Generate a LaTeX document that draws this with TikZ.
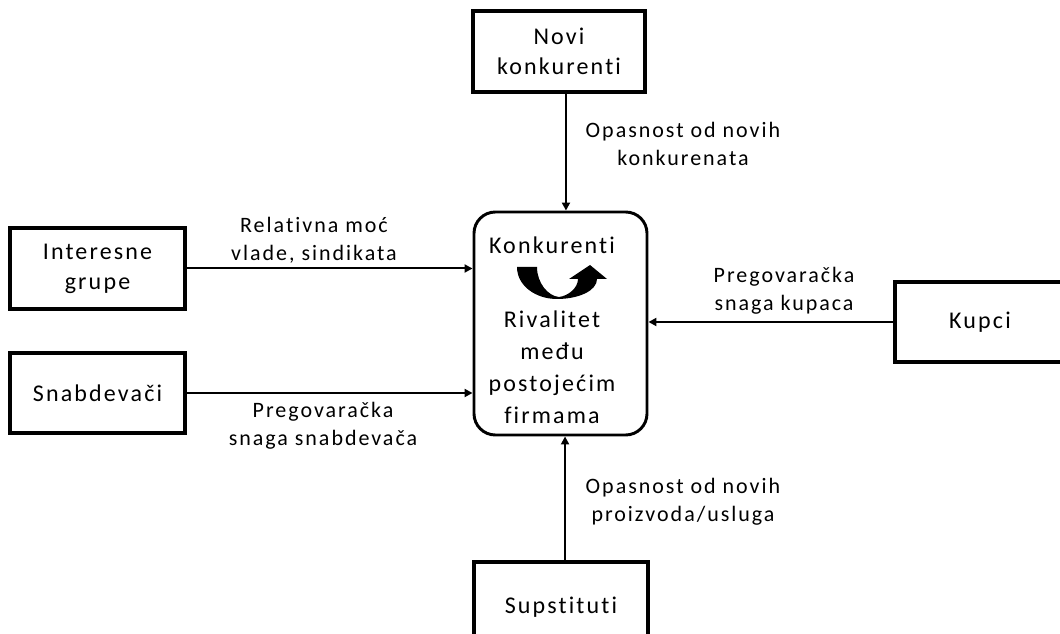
\documentclass[tikz,border=0pt]{standalone}
\usepackage{fontspec}
\setmainfont{Carlito}[LetterSpace=9, Ligatures=CommonOff]
\usetikzlibrary{arrows.meta}

\begin{document}
\begin{tikzpicture}[x=0.75pt,y=-0.75pt,
  box/.style={draw, line width=2.5pt, minimum width=130pt, minimum height=60.75pt,
    inner sep=0pt, align=center, font=\fontsize{18}{22.5}\selectfont},
  core/.style={draw, line width=2.2pt, rounded corners=16pt, minimum width=129.75pt,
    minimum height=167.25pt, inner sep=0pt},
  coretext/.style={align=center, inner sep=0pt, font=\fontsize{18}{24}\selectfont},
  lbl/.style={align=center, inner sep=0pt, font=\fontsize{16.5}{21}\selectfont},
  flow/.style={line width=1.5pt, -{Triangle[length=6pt,width=6pt]}}]

\useasboundingbox (0,0) rectangle (1060,634);
\clip (0,0) rectangle (1060,634);

% outer forces
\node[box, minimum width=129pt] (novi) at (559,51.5) {Novi\\konkurenti};
\node[box, minimum width=131.25pt] (grupe) at (97.5,268.5) {Interesne\\grupe};
\node[box, minimum width=131.25pt, minimum height=60pt] (snab) at (97.5,393) {Snabdeva\v{c}i};
\node[box, minimum width=127.5pt, minimum height=60pt] (kupci) at (980,322) {Kupci};
\node[box, minimum width=130.5pt, minimum height=67.5pt] (sup) at (561,607) {Supstituti};

% central box: rivalry among existing firms
\node[core] (core) at (560.5,323.5) {};
\node[coretext] (konk) at (552,245) {Konkurenti};
\node[coretext] (rival) at (552,367) {Rivalitet\\me\dj u\\postoje\'cim\\firmama};

% curved arrow between the two texts
\fill (517,267) .. controls (517,286) and (536,299) .. (557,299)
  .. controls (578,299) and (597,291) .. (597,279)
  -- (607,279) -- (590,265) -- (569,279) -- (578,279)
  .. controls (578,288) and (568,296) .. (559,297)
  .. controls (548,296) and (537,283) .. (537,267) -- cycle;

% connectors
\coordinate (topin) at ([xshift=4.1pt]core.north);
\coordinate (botin) at ([xshift=3.4pt]core.south);
\draw[flow] (novi.south -| topin) -- (topin);
\draw[flow] (sup.north -| botin) -- (botin);
\draw[flow] (grupe.east) -- (grupe.east -| core.west);
\draw[flow] (snab.east) -- (snab.east -| core.west);
\draw[flow] (kupci.west) -- (kupci.west -| core.east);

% connector labels
\node[lbl] (l1) at (683,144) {Opasnost od novih\\konkurenata};
\node[lbl] (l2) at (314,240) {Relativna mo\'c\\vlade, sindikata};
\node[lbl] (l3) at (784,291) {Pregovara\v{c}ka\\snaga kupaca};
\node[lbl] (l4) at (323,426) {Pregovara\v{c}ka\\snaga snabdeva\v{c}a};
\node[lbl] (l5) at (683,502) {Opasnost od novih\\proizvoda/usluga};
\end{tikzpicture}
\end{document}
